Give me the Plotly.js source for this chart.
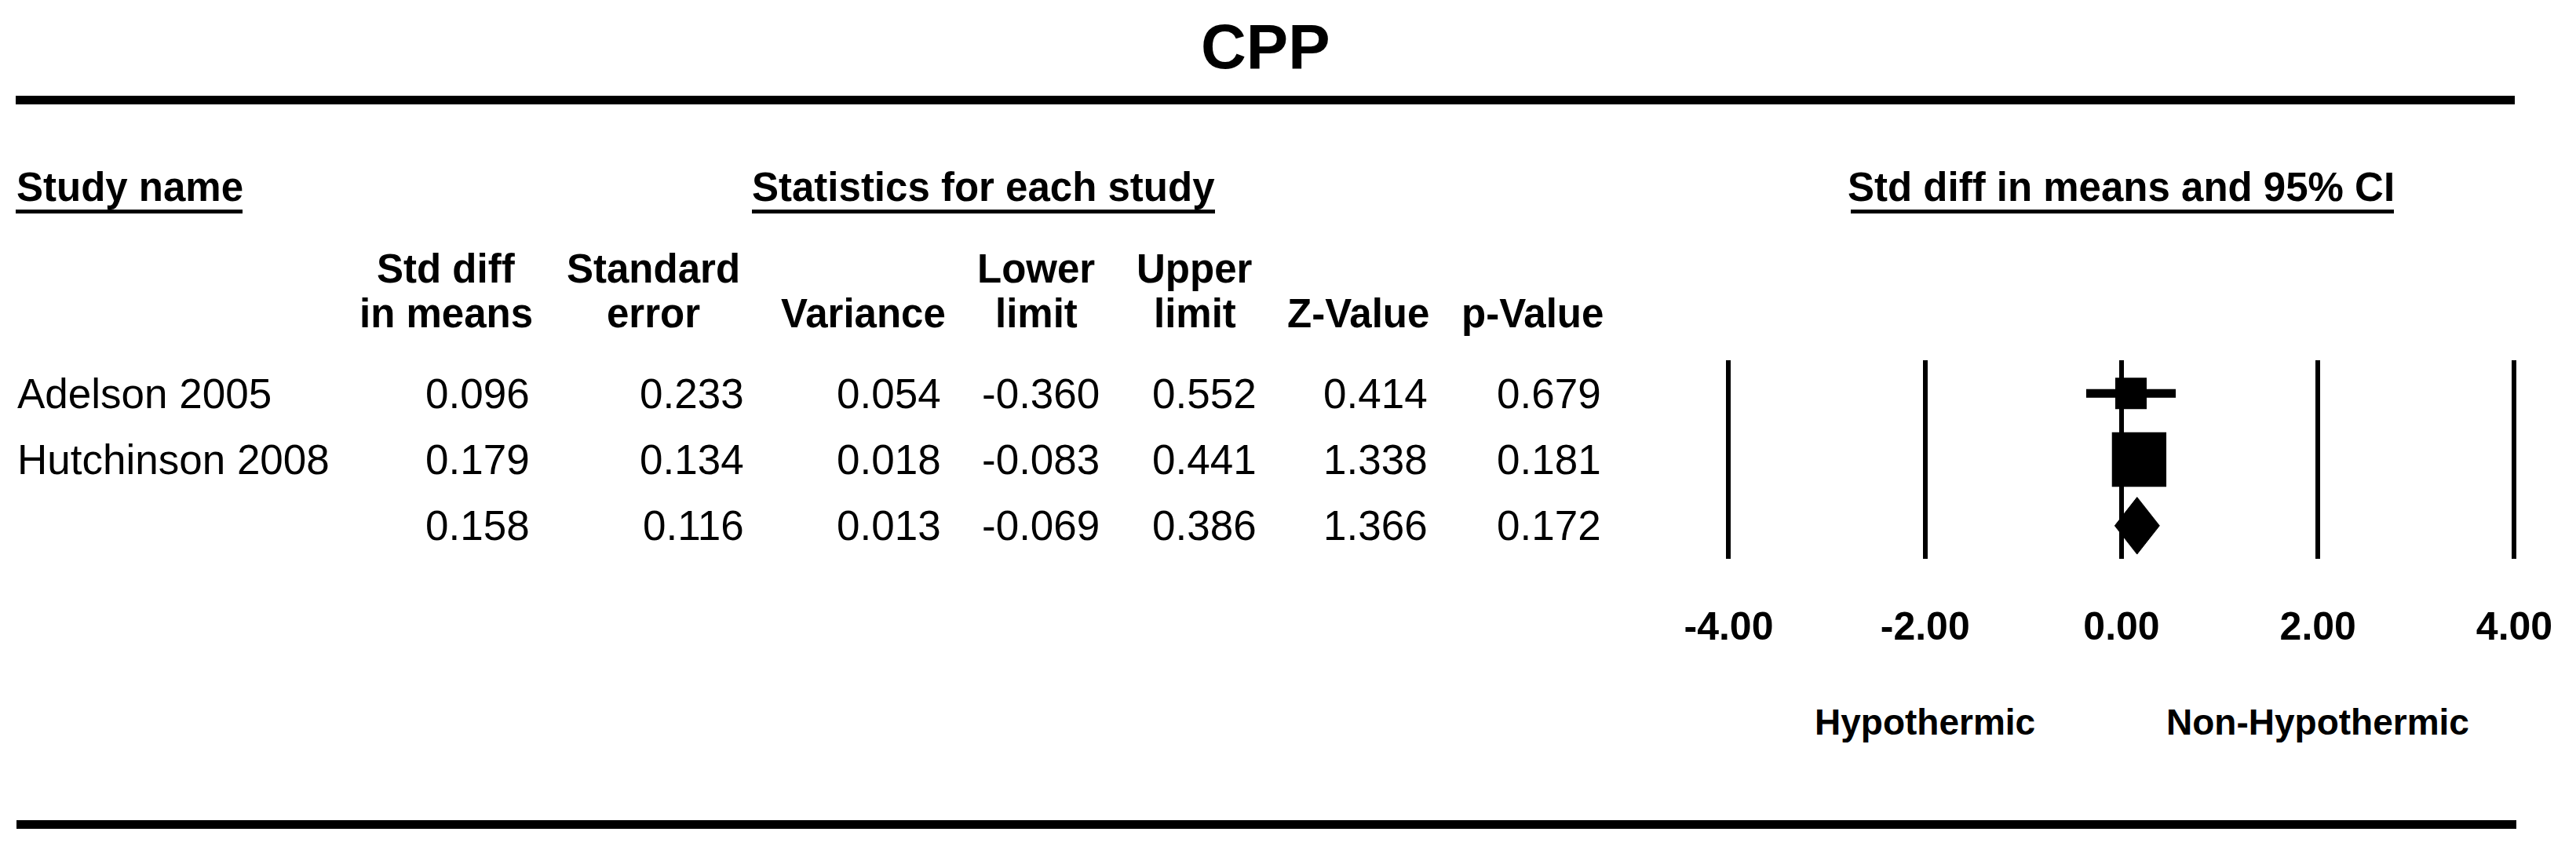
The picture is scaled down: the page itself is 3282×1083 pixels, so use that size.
<!DOCTYPE html>
<html>
<head>
<meta charset="utf-8">
<script src="https://cdn.plot.ly/plotly-3.0.1.min.js"></script>
<style>
  html, body { margin: 0; padding: 0; background: #ffffff; }
  #chart { width: 3282px; height: 1083px; }
</style>
</head>
<body>
<div id="chart"></div>
<script>
// ---------------- data ----------------
var studyNames   = ["Adelson 2005", "Hutchinson 2008", ""];
var stdDiff      = [0.096, 0.179, 0.158];
var stdError     = [0.233, 0.134, 0.116];
var variance     = [0.054, 0.018, 0.013];
var lowerLimit   = [-0.360, -0.083, -0.069];
var upperLimit   = [0.552, 0.441, 0.386];
var zValue       = [0.414, 1.338, 1.366];
var pValue       = [0.679, 0.181, 0.172];
var isSummary    = [false, false, true];
var axisTicks    = [-4, -2, 0, 2, 4];
var chartTitle   = "CPP";
var favoursLeft  = "Hypothermic";
var favoursRight = "Non-Hypothermic";
var colHeaders1  = ["Std diff", "Standard", "", "Lower", "Upper", "", ""];
var colHeaders2  = ["in means", "error", "Variance", "limit", "limit", "Z-Value", "p-Value"];

// ---------------- layout helpers ----------------
var W = 3282, H = 1083;
var FONT = "Liberation Sans, Arial, Helvetica, sans-serif";
function px(x) { return x / W; }
function py(y) { return 1 - y / H; }

var rows = stdDiff.map(function (d, i) { return i; });
var tableCols = [stdDiff, stdError, variance, lowerLimit, upperLimit, zValue, pValue];
var colRight  = [677, 950, 1201, 1403, 1603, 1821, 2042];
var colCenter = [568, 832, 1100, 1320, 1522, 1731, 1952];

// ---------------- traces ----------------
var traces = [];
var studyIdx = rows.filter(function (i) { return !isSummary[i]; });
var sumIdx = rows.filter(function (i) { return isSummary[i]; });

// CI whiskers
var ciX = [], ciY = [];
studyIdx.forEach(function (i) {
  ciX.push(lowerLimit[i], upperLimit[i], null);
  ciY.push(i, i, null);
});
traces.push({
  type: "scatter", mode: "lines", x: ciX, y: ciY,
  line: { color: "#000000", width: 11 }, hoverinfo: "skip", showlegend: false
});

// weight squares (area proportional to inverse variance)
traces.push({
  type: "scatter", mode: "markers",
  x: studyIdx.map(function (i) { return stdDiff[i]; }),
  y: studyIdx,
  marker: {
    symbol: "square", color: "#000000", opacity: 1,
    size: studyIdx.map(function (i) { return 9.3 / Math.sqrt(variance[i]); }),
    line: { width: 0 }
  },
  showlegend: false
});

// summary diamond
sumIdx.forEach(function (i) {
  var h = 0.43;
  traces.push({
    type: "scatter", mode: "lines", fill: "toself", fillcolor: "#000000",
    x: [lowerLimit[i], stdDiff[i], upperLimit[i], stdDiff[i], lowerLimit[i]],
    y: [i, i - h, i, i + h, i],
    line: { color: "#000000", width: 1 }, showlegend: false, hoverinfo: "skip"
  });
});

// ---------------- annotations ----------------
var ann = [];
function addText(text, x, y, opts) {
  var a = {
    text: text, x: x, y: y, showarrow: false,
    xref: opts.xref || "paper", yref: opts.yref || "paper",
    xanchor: opts.xanchor || "center", yanchor: "middle",
    font: { family: FONT, size: opts.size || 52, color: "#000000", weight: opts.bold ? "bold" : "normal" }
  };
  ann.push(a);
}

addText(chartTitle, px(1612), py(59), { size: 80, bold: true });
addText("Study name", px(19), py(238), { size: 51, bold: true, xanchor: "left" });
addText("Statistics for each study", px(1253), py(238), { size: 51, bold: true });
addText("Std diff in means and 95% CI", 0, py(238), { size: 51, bold: true, xref: "x" });

colHeaders1.forEach(function (t, c) {
  if (t) addText(t, px(colCenter[c]), py(342), { size: 51, bold: true });
});
colHeaders2.forEach(function (t, c) {
  addText(t, px(colCenter[c]), py(399), { size: 51, bold: true });
});

rows.forEach(function (i) {
  if (studyNames[i]) addText(studyNames[i], px(20), i, { yref: "y", xanchor: "left", size: 53 });
  tableCols.forEach(function (col, c) {
    addText(col[i].toFixed(3), px(colRight[c]), i, { yref: "y", xanchor: "right", size: 53 });
  });
});

addText(favoursLeft, -2, py(920), { xref: "x", size: 46, bold: true });
addText(favoursRight, 2, py(920), { xref: "x", size: 46, bold: true });

// ---------------- rules ----------------
function hline(x0, x1, y, w) {
  return { type: "line", xref: "paper", yref: "paper", x0: px(x0), x1: px(x1), y0: py(y), y1: py(y),
           line: { color: "#000000", width: w }, layer: "above" };
}
var shapes = [
  hline(20, 3204, 127.5, 11),
  hline(21, 3206, 1050.5, 11),
  hline(20, 309, 269.5, 5),
  hline(958, 1548, 269.5, 5),
  hline(2358, 3050, 269.5, 5)
];

// ---------------- axes ----------------
var unit = 125.125, zeroPx = 2703, pad = 4.1;
var layout = {
  width: W, height: H,
  margin: { l: 0, r: 0, t: 0, b: 0, pad: 0 },
  paper_bgcolor: "#ffffff", plot_bgcolor: "rgba(0,0,0,0)",
  font: { family: FONT, color: "#000000" },
  showlegend: false,
  xaxis: {
    domain: [px(zeroPx - pad * unit), px(zeroPx + pad * unit)],
    range: [-pad, pad],
    tickvals: axisTicks,
    ticktext: axisTicks.map(function (v) { return v.toFixed(2); }),
    showgrid: true, gridcolor: "#000000", gridwidth: 6,
    zeroline: false, showline: false, ticks: "",
    tickfont: { family: FONT, size: 50, color: "#000000", weight: "bold" },
    ticklabelstandoff: 52,
    fixedrange: true
  },
  yaxis: {
    domain: [py(712), py(459)],
    range: [2.5, -0.5],
    visible: false, showgrid: false, zeroline: false, fixedrange: true
  },
  annotations: ann,
  shapes: shapes
};

Plotly.newPlot("chart", traces, layout, { staticPlot: true, displayModeBar: false });
</script>
</body>
</html>
